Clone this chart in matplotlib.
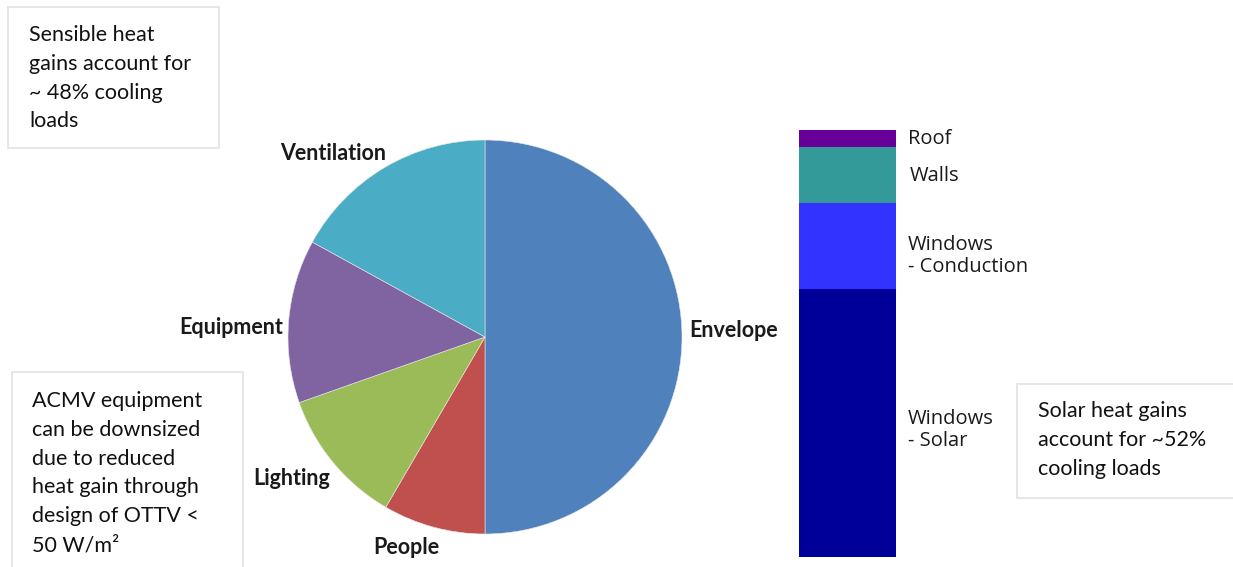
import matplotlib.pyplot as plt
from matplotlib.patches import Rectangle

# pie: share of cooling load by source (%)
pie_labels = ["Envelope", "People", "Lighting", "Equipment", "Ventilation"]
pie_values = [50.0, 8.4, 11.2, 13.4, 17.0]
pie_colors = ["#4F81BD", "#C0504D", "#9BBB59", "#8064A2", "#4BACC6"]

# stacked bar: breakdown of envelope gains (%), bottom to top
bar_labels = ["Windows\n- Solar", "Windows\n- Conduction", "Walls", "Roof"]
bar_values = [62.7, 20.3, 13.0, 4.0]
bar_colors = ["#000099", "#3333FF", "#339999", "#660099"]

W, H = 1233, 567
fig = plt.figure(figsize=(W / 100, H / 100), dpi=100)
fig.patch.set_facecolor("white")


def px_axes(x0, y0, w, h):
    # axes from pixel box (top-left origin)
    return fig.add_axes([x0 / W, 1 - (y0 + h) / H, w / W, h / H])


# ---- pie ----
cx, cy, r = 485, 337, 197
ax = px_axes(cx - r, cy - r, 2 * r, 2 * r)
ax.pie(pie_values, colors=pie_colors, startangle=90, counterclock=False,
       radius=1, wedgeprops=dict(linewidth=0.4, edgecolor="#e8e8e8"))
ax.set_xlim(-1, 1)
ax.set_ylim(-1, 1)
ax.set_aspect("equal")
ax.axis("off")

label_pos = [(1.26, 0.035), (-0.40, -1.07), (-0.98, -0.72), (-1.29, 0.05), (-0.77, 0.93)]
for lab, (x, y) in zip(pie_labels, label_pos):
    ax.text(x, y, lab, ha="center", va="center", fontsize=15.5,
            fontweight="bold", family="Lato", color="#1a1a1a")

# ---- stacked bar ----
bx = px_axes(799, 130, 97, 427)
bottom = 0
for lab, v, c in zip(bar_labels, bar_values, bar_colors):
    bx.bar(0, v, bottom=bottom, width=1, color=c, linewidth=0)
    bottom += v
bx.set_xlim(-0.5, 0.5)
bx.set_ylim(0, bottom)
bx.axis("off")

bar_label_y = [29.8, 70.5, 89.3, 97.8]
bar_label_x = [0.62, 0.62, 0.64, 0.62]
for lab, x, y in zip(bar_labels, bar_label_x, bar_label_y):
    bx.text(x, y, lab, ha="left", va="center", fontsize=14.5,
            family="Open Sans", color="#1a1a1a", linespacing=1.15)

# ---- text boxes ----
boxes = [
    (8, 7, 211, 141, 29, 25, "Sensible heat\ngains account for\n~ 48% cooling\nloads"),
    (12, 372, 231, 200, 32, 391, "ACMV equipment\ncan be downsized\ndue to reduced\nheat gain through\ndesign of OTTV <\n50 W/m²"),
    (1017, 384, 230, 114, 1038, 401, "Solar heat gains\naccount for ~52%\ncooling loads"),
]
for x0, y0, w, h, tx, ty, txt in boxes:
    fig.patches.append(Rectangle((x0 / W, 1 - (y0 + h) / H), w / W, h / H,
                                 transform=fig.transFigure, facecolor="white",
                                 edgecolor="#e2e2e2", linewidth=1.2))
    fig.text(tx / W, 1 - ty / H, txt, ha="left", va="top", fontsize=15.5,
             family="Lato", color="#111111", linespacing=1.55)

fig.savefig("out.png", dpi=100)
